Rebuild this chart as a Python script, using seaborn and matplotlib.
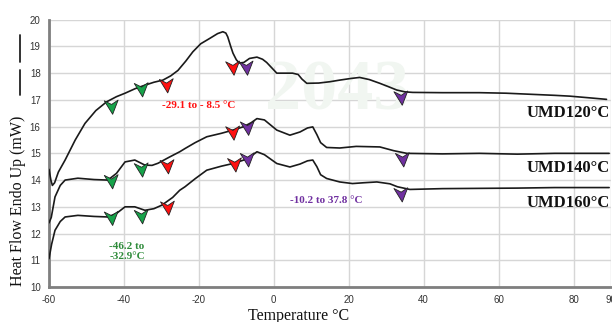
import pandas as pd
import matplotlib.pyplot as plt
from matplotlib.path import Path
from matplotlib.lines import Line2D
import seaborn as sns

# DSC curves (temperature in °C, heat flow in mW)
t_120 = [-60, -59.5, -59.1, -58.5, -57.5, -55.7, -53, -50.4, -47.5, -44.6, -42, -39.7, -37,
         -34.4, -32, -29.6, -27.5, -25.6, -23.5, -21.6, -19.5, -17.1, -15, -13.6, -12.8, -12.3,
         -11.5, -10.9, -10, -9.2, -8, -6.5, -4.5, -3, -1.9, 0.8, 3, 5, 6.5, 7.5, 8.8, 12, 15,
         17.6, 20.5, 22.9, 25.5, 28.3, 30.5, 32.8, 35, 37.1, 45, 54.9, 62, 70.1, 75, 79, 84, 88.8]
hf_120 = [14.4, 14.0, 13.8, 13.9, 14.3, 14.75, 15.5, 16.12, 16.6, 16.93, 17.12, 17.25, 17.42,
          17.55, 17.66, 17.74, 17.9, 18.1, 18.45, 18.8, 19.1, 19.3, 19.48, 19.55, 19.5, 19.36,
          19.0, 18.75, 18.5, 18.38, 18.4, 18.55, 18.6, 18.52, 18.4, 18.0, 18.0, 18.0, 17.95,
          17.78, 17.62, 17.63, 17.68, 17.74, 17.8, 17.84, 17.76, 17.62, 17.5, 17.37, 17.3,
          17.28, 17.27, 17.27, 17.25, 17.2, 17.17, 17.14, 17.08, 17.02]

t_140 = [-60, -59.4, -58.4, -57, -55.7, -52.3, -48, -44.3, -42, -39.7, -37.1, -34.4, -32.5,
         -30.9, -28, -25.1, -23.7, -21, -17.9, -14, -10.9, -8, -6, -4.5, -2.5, 0.8, 4.3, 7, 9,
         10.4, 11.5, 12.5, 14.1, 17.6, 22, 28.3, 32, 35.5, 45, 54.9, 65, 75, 89.5]
hf_140 = [12.4, 12.6, 13.37, 13.8, 14.0, 14.07, 14.02, 14.0, 14.25, 14.68, 14.75, 14.56, 14.55,
          14.63, 14.85, 15.06, 15.18, 15.4, 15.62, 15.75, 15.87, 16.0, 16.15, 16.3, 16.25, 15.87,
          15.68, 15.8, 15.95, 15.99, 15.7, 15.4, 15.22, 15.2, 15.26, 15.24, 15.1, 15.0, 14.98,
          15.0, 14.97, 15.0, 15.0]

t_160 = [-60, -59.3, -58.4, -57, -55.7, -52.3, -48, -44.3, -42, -39.7, -37.1, -34.4, -32,
         -29.9, -27, -25.1, -23.7, -21, -17.9, -14, -10.9, -8, -6, -4.5, -2.5, 0.8, 4.3, 7, 9,
         10.4, 11.5, 12.5, 14.1, 17.6, 21, 24, 27.5, 31, 33, 36.3, 45, 54.9, 65, 75, 89.5]
hf_160 = [11.06, 11.6, 12.12, 12.45, 12.62, 12.68, 12.64, 12.62, 12.75, 13.0, 13.0, 12.87, 12.93,
          13.06, 13.35, 13.62, 13.75, 14.05, 14.37, 14.52, 14.62, 14.75, 14.9, 15.06, 14.95,
          14.62, 14.49, 14.6, 14.72, 14.75, 14.5, 14.2, 14.06, 13.93, 13.87, 13.9, 13.93, 13.86,
          13.75, 13.65, 13.68, 13.69, 13.7, 13.72, 13.72]

samples = ["UMD120°C", "UMD140°C", "UMD160°C"]

# transition arrows: (temperature, heat flow, kind)
arrow_t = [-43.3, -35.3, -28.6, -10.9, -7.3, 34.0,
           -43.3, -35.3, -28.4, -10.9, -7.0, 34.4,
           -43.3, -35.3, -28.3, -10.4, -7.0, 34.0]
arrow_hf = [16.72, 17.37, 17.52, 18.18, 18.18, 17.06,
            13.93, 14.37, 14.49, 15.75, 15.93, 14.75,
            12.56, 12.62, 12.94, 14.56, 14.75, 13.44]
arrow_kind = ["green", "green", "red", "red", "purple", "purple"] * 3

kind_colors = {"green": "#16a34a", "red": "#ff1010", "purple": "#7030a0"}

ranges = ["-29.1 to - 8.5 °C", "-46.2 to\n-32.9°C", "-10.2 to 37.8 °C"]

frames = []
for name, t, hf in zip(samples, [t_120, t_140, t_160], [hf_120, hf_140, hf_160]):
    frames.append(pd.DataFrame({"temp": t, "hf": hf, "sample": name}))
curves = pd.concat(frames, ignore_index=True)
arrows = pd.DataFrame({"temp": arrow_t, "hf": arrow_hf, "kind": arrow_kind})

sns.set_style("whitegrid")
plt.rcParams["font.family"] = ["Liberation Sans", "DejaVu Sans"]

fig = plt.figure(figsize=(6.12, 3.22), dpi=100)
ax = fig.add_axes([49 / 612, 1 - 287 / 322, 562 / 612, 267.3 / 322])
ax.set_axisbelow(True)

# faint watermark behind the curves
ax.text(17, 17.3, "2043", fontsize=52, fontweight="bold", color="#f1f6f1",
        ha="center", va="center", family="Liberation Serif", zorder=1)

sns.lineplot(data=curves, x="temp", y="hf", units="sample", estimator=None, sort=False,
             color="#1a1a1a", linewidth=1.2, ax=ax, legend=False, zorder=3)

# notched arrowhead marker
arrow_marker = Path([(-1.0, 0.9), (0.0, 0.4), (0.9, 1.0), (0.15, -0.95), (-1.0, 0.9)],
                    [Path.MOVETO, Path.LINETO, Path.LINETO, Path.LINETO, Path.CLOSEPOLY])
sns.scatterplot(data=arrows, x="temp", y="hf", hue="kind", palette=kind_colors,
                marker=arrow_marker, s=110, edgecolor="#222222", linewidth=0.6,
                ax=ax, legend=False, zorder=5)

ax.set_xlim(-60, 90)
ax.set_ylim(10, 20)
ax.set_xticks([-60, -40, -20, 0, 20, 40, 60, 80, 90])
ax.set_xticklabels(["-60", "-40", "-20", "0", "20", "40", "60", "80", "90"])
ax.set_yticks(range(10, 21))
ax.grid(True, color="#d6d6d6", linewidth=1.0)
ax.set_xlabel("")
ax.set_ylabel("")
for side in ["top", "right"]:
    ax.spines[side].set_visible(False)
for side in ["left", "bottom"]:
    ax.spines[side].set_color("#7f7f7f")
    ax.spines[side].set_linewidth(2)
ax.tick_params(axis="both", labelsize=7, colors="#7f7f7f", labelcolor="#333333",
               length=3, width=1, direction="out", pad=3)

serif = ["Liberation Serif", "DejaVu Serif"]
for name, y in zip(samples, [16.5, 14.44, 13.13]):
    ax.text(89.6, y, name, fontsize=12, fontweight="bold", family=serif,
            ha="right", va="center", color="#111111", zorder=6)

ax.text(-20.1, 16.8, ranges[0], fontsize=8, fontweight="bold", family=serif,
        color="#ff1010", ha="center", va="center")
ax.text(-39.2, 11.33, ranges[1], fontsize=8, fontweight="bold", family=serif,
        color="#2e8b3a", ha="center", va="center", linespacing=1.1)
ax.text(14.1, 13.24, ranges[2], fontsize=8, fontweight="bold", family=serif,
        color="#7030a0", ha="center", va="center")

fig.text(299 / 612, 1 - 320.5 / 322, "Temperature °C", fontsize=11.5, family=serif,
         ha="center", va="baseline", color="#111111")
fig.text(18 / 612, 1 - 201 / 322, "Heat Flow Endo Up (mW)", fontsize=11.5, family=serif,
         rotation=90, ha="center", va="center", color="#111111")
for y0, y1 in [(35, 62), (70, 95)]:
    fig.add_artist(Line2D([20 / 612, 20 / 612], [1 - y0 / 322, 1 - y1 / 322],
                          color="#222222", linewidth=1.3))

fig.savefig("out.png", dpi=100)
